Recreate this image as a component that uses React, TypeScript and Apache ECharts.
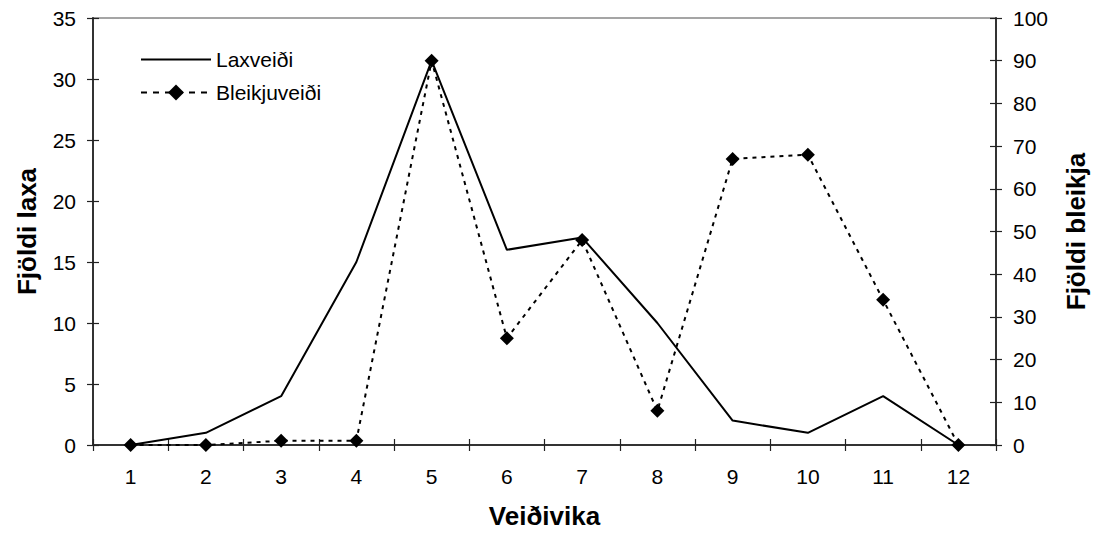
import React, { useEffect, useRef } from "react";
import * as echarts from "echarts";

const weeks = ["1", "2", "3", "4", "5", "6", "7", "8", "9", "10", "11", "12"];
const laxveidi = [0, 1, 4, 15, 31.5, 16, 17, 10, 2, 1, 4, 0];
const bleikjuveidi = [0, 0, 1, 1, 90, 25, 48, 8, 67, 68, 34, 0];

const FONT = "'Liberation Sans', Arial, Helvetica, sans-serif";

export default function App() {
  const ref = useRef<HTMLDivElement>(null);
  useEffect(() => {
    if (!ref.current) return;
    const chart = echarts.init(ref.current, null, { renderer: "svg" });
    const tickStyle = { color: "#222", width: 1.2 };
    const labelStyle = { color: "#000", fontSize: 21, fontFamily: FONT };
    const nameStyle = { color: "#000", fontSize: 26, fontWeight: "bold" as const, fontFamily: FONT };
    const axisLineStyle = { color: "#333", width: 2 };
    chart.setOption({
      animation: false,
      backgroundColor: "#fff",
      textStyle: { fontFamily: FONT },
      grid: {
        left: 93,
        right: 100,
        top: 18,
        bottom: 91,
        show: true,
        borderColor: "#888",
        borderWidth: 1.5,
        backgroundColor: "transparent",
      },
      legend: {
        orient: "vertical",
        left: 135,
        top: 44,
        itemWidth: 70,
        itemHeight: 20,
        itemGap: 12,
        textStyle: { color: "#000", fontSize: 21, fontFamily: FONT },
        data: [
          { name: "Laxveiði", itemStyle: { color: "rgba(0,0,0,0)", borderWidth: 0 } },
          { name: "Bleikjuveiði", lineStyle: { type: [6, 6] } },
        ],
      },
      xAxis: [
        {
          type: "category",
          data: weeks,
          position: "bottom",
          boundaryGap: true,
          name: "Veiðivika",
          nameLocation: "middle",
          nameGap: 58,
          nameTextStyle: nameStyle,
          axisLine: { lineStyle: axisLineStyle },
          axisTick: { show: true, length: 6, lineStyle: tickStyle },
          axisLabel: { ...labelStyle, margin: 21 },
          splitLine: { show: false },
        },
        {
          type: "category",
          data: weeks,
          position: "bottom",
          boundaryGap: true,
          axisLine: { show: false },
          axisTick: { show: true, inside: true, length: 6, lineStyle: tickStyle },
          axisLabel: { show: false },
          splitLine: { show: false },
        },
      ],
      yAxis: [
        {
          type: "value",
          position: "left",
          min: 0,
          max: 35,
          interval: 5,
          name: "Fjöldi laxa",
          nameLocation: "middle",
          nameGap: 53,
          nameRotate: 90,
          nameTextStyle: nameStyle,
          axisLine: { show: true, lineStyle: axisLineStyle },
          axisTick: { show: true, length: 6, lineStyle: tickStyle },
          axisLabel: { ...labelStyle, margin: 17 },
          splitLine: { show: false },
        },
        {
          type: "value",
          position: "right",
          min: 0,
          max: 100,
          interval: 10,
          name: "Fjöldi bleikja",
          nameLocation: "middle",
          nameGap: 67,
          nameRotate: 90,
          nameTextStyle: nameStyle,
          axisLine: { show: true, lineStyle: axisLineStyle },
          axisTick: { show: true, length: 6, lineStyle: tickStyle },
          axisLabel: { ...labelStyle, margin: 17 },
          splitLine: { show: false },
        },
        {
          type: "value",
          position: "left",
          min: 0,
          max: 35,
          interval: 5,
          axisLine: { show: false },
          axisTick: { show: true, inside: true, length: 6, lineStyle: tickStyle },
          axisLabel: { show: false },
          splitLine: { show: false },
        },
        {
          type: "value",
          position: "right",
          min: 0,
          max: 100,
          interval: 10,
          axisLine: { show: false },
          axisTick: { show: true, inside: true, length: 6, lineStyle: tickStyle },
          axisLabel: { show: false },
          splitLine: { show: false },
        },
      ],
      series: [
        {
          name: "Laxveiði",
          type: "line",
          xAxisIndex: 0,
          yAxisIndex: 0,
          data: laxveidi,
          showSymbol: false,
          symbol: "none",
          itemStyle: { color: "#000" },
          lineStyle: { color: "#000", width: 2, type: "solid" },
          z: 3,
        },
        {
          name: "Bleikjuveiði",
          type: "line",
          xAxisIndex: 0,
          yAxisIndex: 1,
          data: bleikjuveidi,
          symbol: "diamond",
          symbolSize: 14,
          itemStyle: { color: "#000", borderWidth: 0 },
          lineStyle: { color: "#000", width: 2, type: [4, 5] },
          z: 4,
        },
      ],
    });
    return () => chart.dispose();
  }, []);
  return (
    <div
      ref={ref}
      style={{ position: "absolute", left: 0, top: 0, width: 1097, height: 536 }}
    />
  );
}
